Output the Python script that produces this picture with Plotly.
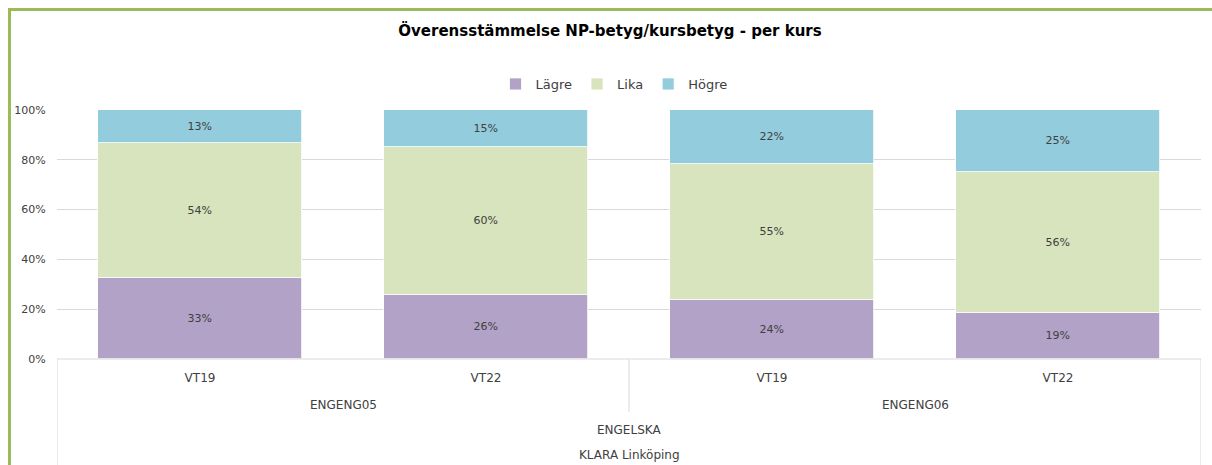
import plotly.graph_objects as go

# ---- data ----
courses = ["ENGENG05", "ENGENG05", "ENGENG06", "ENGENG06"]
terms = ["VT19", "VT22", "VT19", "VT22"]
subject = "ENGELSKA"
school = "KLARA Linköping"
series_names = ["Lägre", "Lika", "Högre"]
lagre = [32.6, 25.6, 23.6, 18.6]
lika = [54.2, 59.6, 54.6, 56.4]
hogre = [13.2, 14.8, 21.8, 25.0]
colors = ["#b3a2c7", "#d7e4bd", "#93cddd"]
y_ticks = [0, 20, 40, 60, 80, 100]

FONT = "DejaVu Sans"
W, H = 1212, 465
ML, MR, MT, MB = 57, 11, 110, 106
pw = W - ML - MR
ph = H - MT - MB

def px_to_paper_x(px):
    return (px - ML) / pw

def px_to_paper_y(py):
    return (H - MB - py) / ph

xpos = list(range(len(terms)))

fig = go.Figure()
for name, vals, col in zip(series_names, [lagre, lika, hogre], colors):
    fig.add_trace(go.Bar(
        x=xpos, y=vals, name=name,
        marker=dict(color=col, line=dict(color="white", width=0.8)),
        width=0.713,
        text=vals, texttemplate="%{y:.0f}%", textposition="inside",
        insidetextanchor="middle",
        textfont=dict(family=FONT, size=11, color="#404040"),
        hoverinfo="skip",
    ))

shapes = []
line_col = "#d9d9d9"
shapes.append(dict(type="line", xref="paper", yref="paper", x0=0, x1=1, y0=0, y1=0,
                   line=dict(color=line_col, width=1)))
for xv, ybot in [(-0.5, H + 5), (1.5, 412), (3.5, H + 5)]:
    shapes.append(dict(type="line", xref="x", yref="paper", x0=xv, x1=xv,
                       y0=0, y1=px_to_paper_y(ybot), line=dict(color=line_col, width=1)))
g = "#9bbb59"
shapes.append(dict(type="line", xref="paper", yref="paper",
                   x0=px_to_paper_x(9.5), x1=px_to_paper_x(9.5),
                   y0=px_to_paper_y(H + 5), y1=px_to_paper_y(8),
                   line=dict(color=g, width=3)))
shapes.append(dict(type="line", xref="paper", yref="paper",
                   x0=px_to_paper_x(8), x1=px_to_paper_x(W + 5),
                   y0=px_to_paper_y(9.5), y1=px_to_paper_y(9.5),
                   line=dict(color=g, width=3)))

annotations = []
lab_font = dict(family=FONT, size=12, color="#404040")
for c, xc in [(courses[0], 0.5), (courses[2], 2.5)]:
    annotations.append(dict(text=c, x=xc, xref="x", y=px_to_paper_y(405), yref="paper",
                            showarrow=False, yanchor="middle", font=lab_font))
annotations.append(dict(text=subject, x=1.5, xref="x", y=px_to_paper_y(430), yref="paper",
                        showarrow=False, yanchor="middle", font=lab_font))
annotations.append(dict(text=school, x=1.5, xref="x", y=px_to_paper_y(455), yref="paper",
                        showarrow=False, yanchor="middle", font=lab_font))

fig.update_layout(
    width=W, height=H,
    barmode="stack",
    bargap=0,
    plot_bgcolor="white", paper_bgcolor="white",
    margin=dict(l=ML, r=MR, t=MT, b=MB, autoexpand=False),
    title=dict(text="<b>Överensstämmelse NP-betyg/kursbetyg - per kurs</b>",
               x=610 / W, xref="container", xanchor="center",
               y=1 - 31 / H, yref="container", yanchor="middle",
               font=dict(family=FONT, size=15, color="#000000")),
    legend=dict(orientation="h", x=px_to_paper_x(614), xref="paper", xanchor="center",
                y=px_to_paper_y(84), yref="paper", yanchor="middle",
                font=dict(family=FONT, size=13, color="#404040"),
                itemwidth=30, traceorder="normal"),
    xaxis=dict(range=[-0.5, 3.5], tickvals=xpos, ticktext=terms,
               showgrid=False, zeroline=False, showline=False,
               ticks="outside", ticklen=8, tickcolor="rgba(0,0,0,0)",
               tickfont=dict(family=FONT, size=12, color="#404040")),
    yaxis=dict(range=[0, 100], tickvals=y_ticks, ticktext=[f"{v}%" for v in y_ticks],
               showgrid=True, gridcolor=line_col, gridwidth=1, zeroline=False,
               showline=False, ticks="outside", ticklen=8, tickcolor="rgba(0,0,0,0)",
               tickfont=dict(family=FONT, size=11, color="#404040")),
    shapes=shapes,
    annotations=annotations,
)

fig.write_html("out.html", config={"displayModeBar": False},
               post_script="document.body.style.margin='0';document.body.style.overflow='hidden';")
